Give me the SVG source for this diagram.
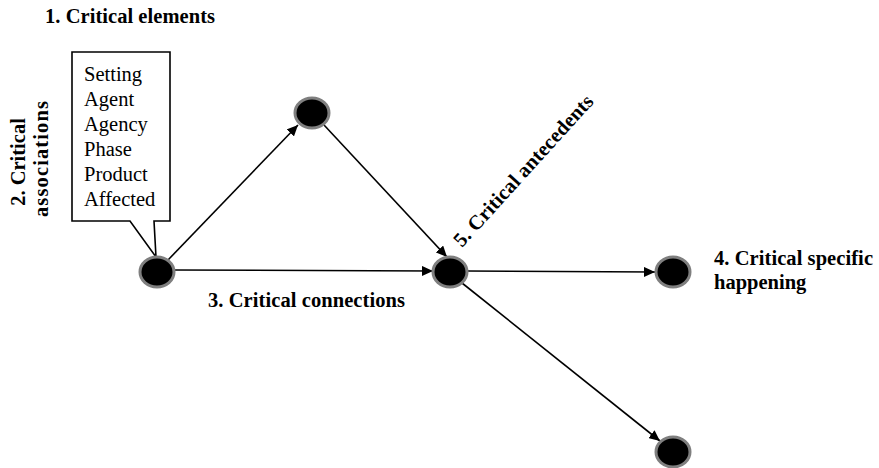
<svg xmlns="http://www.w3.org/2000/svg" width="879" height="468" viewBox="0 0 879 468">
<defs>
<style>
.lbl{font-family:"Liberation Serif","Times New Roman",serif;font-weight:bold;font-size:20.5px;fill:#000}
.box{font-family:"Liberation Serif","Times New Roman",serif;font-size:20.5px;fill:#000}
.node{fill:#000;stroke:#7f7f7f;stroke-width:3}
.edge{stroke:#000;stroke-width:1.6;fill:none;marker-end:url(#arr)}
</style>
<marker id="arr" markerUnits="userSpaceOnUse" markerWidth="12" markerHeight="10" refX="11" refY="5" orient="auto">
<path d="M0,0 L11,5 L0,10 Z" fill="#000"/>
</marker>
</defs>
<rect width="879" height="468" fill="#fff"/>
<g id="connectors">
<line class="edge" x1="168" y1="260" x2="298" y2="125"/>
<line class="edge" x1="324" y1="125" x2="447" y2="257"/>
<line class="edge" x1="174" y1="270" x2="433" y2="271"/>
<line class="edge" x1="467" y1="271" x2="655" y2="272"/>
<line class="edge" x1="462" y1="283" x2="660" y2="441"/>
</g>
<g id="callout">
<path d="M72,52 H170 V221 H154 L156,257 L130,221 H72 Z" fill="#fff" stroke="#000" stroke-width="1.6"/>
<text class="box" x="84" y="81">Setting</text>
<text class="box" x="84" y="106">Agent</text>
<text class="box" x="84" y="131">Agency</text>
<text class="box" x="84" y="156">Phase</text>
<text class="box" x="84" y="181">Product</text>
<text class="box" x="84" y="206">Affected</text>
</g>
<g id="nodeA"><ellipse class="node" cx="157" cy="272" rx="17" ry="15"/></g>
<g id="nodeB"><ellipse class="node" cx="312" cy="113" rx="17" ry="15"/></g>
<g id="nodeC"><ellipse class="node" cx="450" cy="272" rx="17" ry="15"/></g>
<g id="nodeD"><ellipse class="node" cx="673" cy="272" rx="17" ry="15"/></g>
<g id="nodeE"><ellipse class="node" cx="673" cy="452" rx="17" ry="15"/></g>
<g id="labels">
<text class="lbl" x="45" y="23" textLength="170">1. Critical elements</text>
<text class="lbl" transform="translate(25,162) rotate(-90)" text-anchor="middle">2. Critical</text>
<text class="lbl" transform="translate(48,159) rotate(-90)" text-anchor="middle" textLength="116">associations</text>
<text class="lbl" x="208" y="307" textLength="197">3. Critical connections</text>
<text class="lbl" x="714" y="265" textLength="159">4. Critical specific</text>
<text class="lbl" x="714" y="289">happening</text>
<text class="lbl" transform="translate(462,248) rotate(-47.7)" textLength="197">5. Critical antecedents</text>
</g>
</svg>
